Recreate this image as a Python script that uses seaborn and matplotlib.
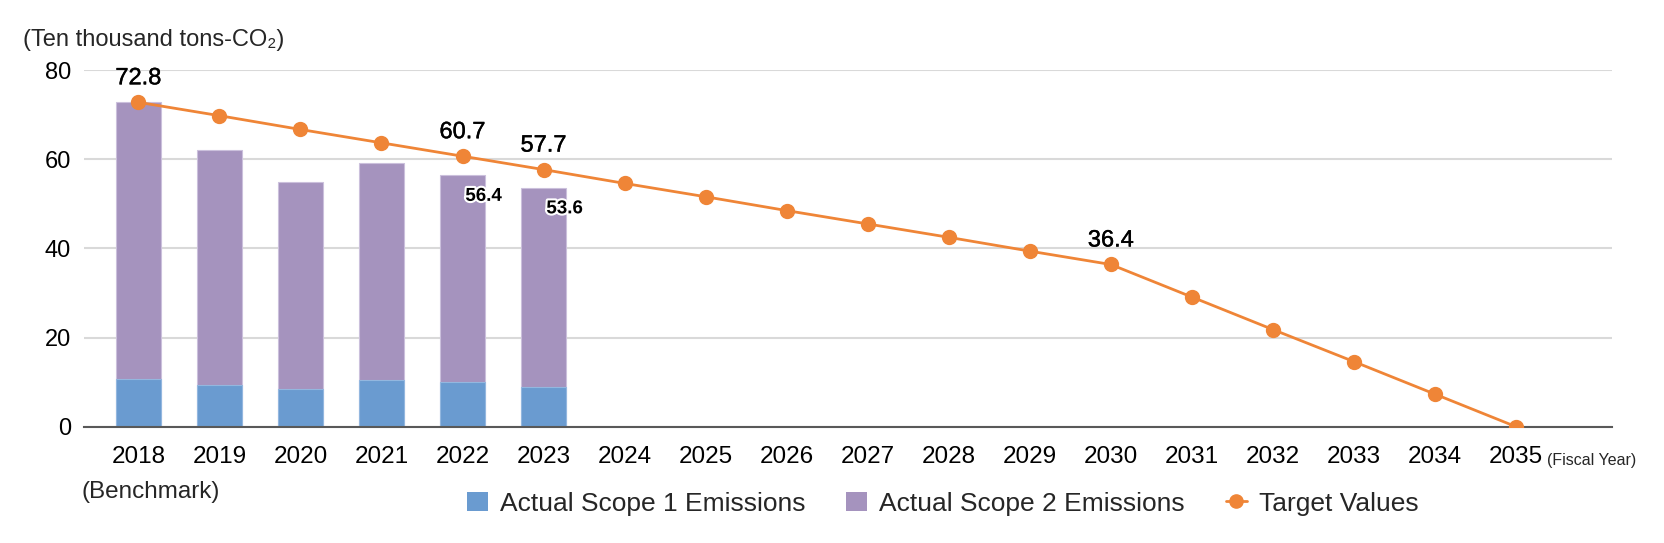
import numpy as np
import pandas as pd
import matplotlib
matplotlib.use('Agg')
import matplotlib.pyplot as plt
import matplotlib.patheffects as pe
from matplotlib.patches import Patch
from matplotlib.lines import Line2D
import seaborn as sns

# data
years = [str(y) for y in range(2018, 2036)]
actual_years = ['2018', '2019', '2020', '2021', '2022', '2023']
scope1 = [10.7, 9.3, 8.5, 10.5, 10.0, 9.0]
total_actual = [72.8, 62.0, 54.9, 59.2, 56.4, 53.6]
target = [72.8, 69.8, 66.7, 63.7, 60.7, 57.7, 54.6, 51.6, 48.5, 45.5,
          42.5, 39.4, 36.4, 29.1, 21.8, 14.6, 7.3, 0.0]
target_labels = {'2018': '72.8', '2022': '60.7', '2023': '57.7', '2030': '36.4'}
actual_labels = {'2022': '56.4', '2023': '53.6'}

c_blue = '#6a9bd0'
c_purple = '#a593be'
c_orange = '#ef8537'

sns.set_style('white')
plt.rcParams['font.family'] = ['Liberation Sans', 'DejaVu Sans']

fig = plt.figure(figsize=(16.65, 5.43), dpi=100)
ax = fig.add_axes([0.0505, 0.2142, 0.9177, 0.6565])

df_bar = pd.DataFrame({'year': actual_years, 'scope1': scope1, 'total': total_actual})
df_line = pd.DataFrame({'year': years, 'target': target})

# purple = full stack (scope 1 + 2), blue drawn over the bottom part
sns.barplot(data=df_bar, x='year', y='total', order=years, color=c_purple,
            saturation=1, width=0.56, edgecolor='#cbc0dc', linewidth=0.8, ax=ax)
sns.barplot(data=df_bar, x='year', y='scope1', order=years, color=c_blue,
            saturation=1, width=0.56, edgecolor='#93b7df', linewidth=0.8, ax=ax)
sns.pointplot(data=df_line, x='year', y='target', order=years, color=c_orange,
              markers='o', markersize=9.5, linewidth=2, ax=ax, zorder=5)

ax.set_ylim(0, 80)
ax.set_xlim(-0.67, 18.185)
ax.set_yticks([0, 20, 40, 60, 80])
ax.yaxis.grid(True, color='#d9d9d9', linewidth=1.5)
ax.set_axisbelow(True)
for s in ['left', 'right', 'top']:
    ax.spines[s].set_visible(False)
ax.spines['bottom'].set_color('#595959')
ax.spines['bottom'].set_linewidth(1.5)
ax.tick_params(axis='both', length=0, colors='black')
ax.tick_params(axis='x', pad=14, labelsize=17.5)
ax.tick_params(axis='y', pad=9.5, labelsize=17)
ax.set_xlabel('')
ax.set_ylabel('')

# labels on the target line (a touch heavier than the tick labels)
for yr, txt in target_labels.items():
    i = years.index(yr)
    ax.annotate(txt, (i, target[i]), xytext=(0, 24 / 1.389), textcoords='offset points',
                ha='center', va='center', fontsize=17, color='black',
                path_effects=[pe.withStroke(linewidth=0.3, foreground='black')])

# totals next to the last actual bars
for yr, txt in actual_labels.items():
    i = years.index(yr)
    v = total_actual[actual_years.index(yr)]
    ax.annotate(txt, (i, v), xytext=(21 / 1.389, -21 / 1.389), textcoords='offset points',
                ha='center', va='center', fontsize=13.5, fontweight='bold', color='black',
                path_effects=[pe.withStroke(linewidth=3, foreground='white')])

fig.text(82 / 1665, 1 - 492 / 543, '(Benchmark)', ha='left', va='center', fontsize=17.5)
fig.text(1547 / 1665, 1 - 460 / 543, '(Fiscal Year)', ha='left', va='center', fontsize=11.5)

fig.text(23 / 1665, 1 - 40 / 543, '(Ten thousand tons-CO\u2082)', ha='left', va='center',
         fontsize=17)

handles = [Patch(facecolor=c_blue, edgecolor='none'),
           Patch(facecolor=c_purple, edgecolor='none'),
           Line2D([], [], color=c_orange, marker='o', markersize=9.5, linewidth=2)]
labels = ['Actual Scope 1 Emissions', 'Actual Scope 2 Emissions', 'Target Values']
fig.legend(handles, labels, loc='center', bbox_to_anchor=(0.566, 0.072), ncol=3,
           frameon=False, fontsize=19, handlelength=0.8, handleheight=0.76,
           columnspacing=1.55, handletextpad=0.45)

fig.savefig('out.png', dpi=100)
